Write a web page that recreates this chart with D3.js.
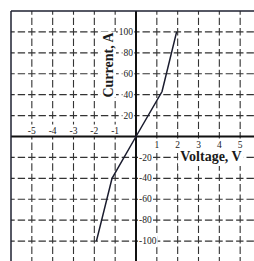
<!DOCTYPE html>
<html><head><meta charset="utf-8">
<script src="https://cdn.jsdelivr.net/npm/d3@7"></script>
<style>html,body{margin:0;padding:0;background:#fff;overflow:hidden}</style>
</head><body>
<script>
const voltage = [-1.9, -1.15, 0, 1.25, 1.95];
const current = [-100, -40, 0, 43, 100];
const xTicks = [-5, -4, -3, -2, -1, 1, 2, 3, 4, 5];
const yTicks = [100, 80, 60, 40, 20, -20, -40, -60, -80, -100];
const xGrid = [-5, -4, -3, -2, -1, 1, 2, 3, 4, 5, 6];
const yGrid = [100, 80, 60, 40, 20, -20, -40, -60, -80, -100, -120];
const xLabel = "Voltage, V";
const yLabel = "Current, A";

const W = 254, H = 261;
const svg = d3.select("body").append("svg").attr("width", W).attr("height", H);
const x = d3.scaleLinear().domain([-6, 6]).range([11, 261]);
const y = d3.scaleLinear().domain([-120, 120]).range([262, 11]);

const gridColor = "#333";
// grid
svg.append("g").selectAll("line").data(xGrid).join("line")
  .attr("x1", d => x(d)).attr("x2", d => x(d))
  .attr("y1", y(120)).attr("y2", H)
  .attr("stroke", gridColor).attr("stroke-width", 1.1)
  .attr("stroke-dasharray", "7.4,3").attr("stroke-dashoffset", 3.7);
svg.append("g").selectAll("line").data(yGrid).join("line")
  .attr("y1", d => y(d)).attr("y2", d => y(d))
  .attr("x1", x(-6)).attr("x2", W)
  .attr("stroke", gridColor).attr("stroke-width", 1.1)
  .attr("stroke-dasharray", "7.4,3").attr("stroke-dashoffset", 3.7);

const bgLayer = svg.append("g");
// axes
svg.append("line").attr("x1", x(-6)).attr("x2", W).attr("y1", y(0)).attr("y2", y(0))
  .attr("stroke", "#111").attr("stroke-width", 2);
svg.append("line").attr("x1", x(0)).attr("x2", x(0)).attr("y1", y(120)).attr("y2", H)
  .attr("stroke", "#111").attr("stroke-width", 2);
// border
svg.append("line").attr("x1", x(-6)).attr("x2", W).attr("y1", y(120)).attr("y2", y(120))
  .attr("stroke", "#1e2030").attr("stroke-width", 1.5);
svg.append("line").attr("x1", x(-6)).attr("x2", x(-6)).attr("y1", y(120)).attr("y2", H)
  .attr("stroke", "#1e2030").attr("stroke-width", 1.5);

// curve
svg.append("path")
  .datum(voltage.map((v, i) => [v, current[i]]))
  .attr("d", d3.line().x(d => x(d[0])).y(d => y(d[1])))
  .attr("fill", "none").attr("stroke", "#1a1c2e").attr("stroke-width", 1.5);

const font = "'Liberation Serif','Times New Roman',serif";
const txt = svg.append("g").attr("font-family", font).attr("fill", "#222");

function bg(node, pad) {
  const b = node.getBBox();
  bgLayer.append("rect").attr("x", b.x - pad).attr("y", b.y - pad)
    .attr("width", b.width + 2 * pad).attr("height", b.height + 2 * pad).attr("fill", "#fff");
}

// x tick labels
xTicks.forEach(d => {
  const t = txt.append("text").attr("x", x(d)).attr("y", d < 0 ? y(0) - 3 : y(0) + 11)
    .attr("text-anchor", "middle").attr("font-size", 9.5).text(d);
  bg(t.node(), 1);
});
// y tick labels
yTicks.forEach(d => {
  const t = txt.append("text").attr("x", d > 0 ? x(0) - 3 : x(0) + 3).attr("y", y(d))
    .attr("dy", "0.33em").attr("text-anchor", d > 0 ? "end" : "start")
    .attr("font-size", 9.5).text(d);
  bg(t.node(), 1);
});
// axis titles
const xl = txt.append("text").attr("x", 211).attr("y", 161).attr("text-anchor", "middle")
  .attr("font-size", 14).attr("font-weight", "bold").attr("fill", "#1a1a1a").text(xLabel);
bg(xl.node(), 2);
const yl = txt.append("text").attr("transform", "translate(113,65) rotate(-90)")
  .attr("text-anchor", "middle").attr("font-size", 14).attr("font-weight", "bold")
  .attr("fill", "#1a1a1a").text(yLabel);
{
  const b = yl.node().getBBox();
  bgLayer.append("rect").attr("x", 113 + b.y).attr("y", 65 - b.x - b.width)
    .attr("width", b.height).attr("height", b.width).attr("fill", "#fff");
}
</script>
</body></html>
